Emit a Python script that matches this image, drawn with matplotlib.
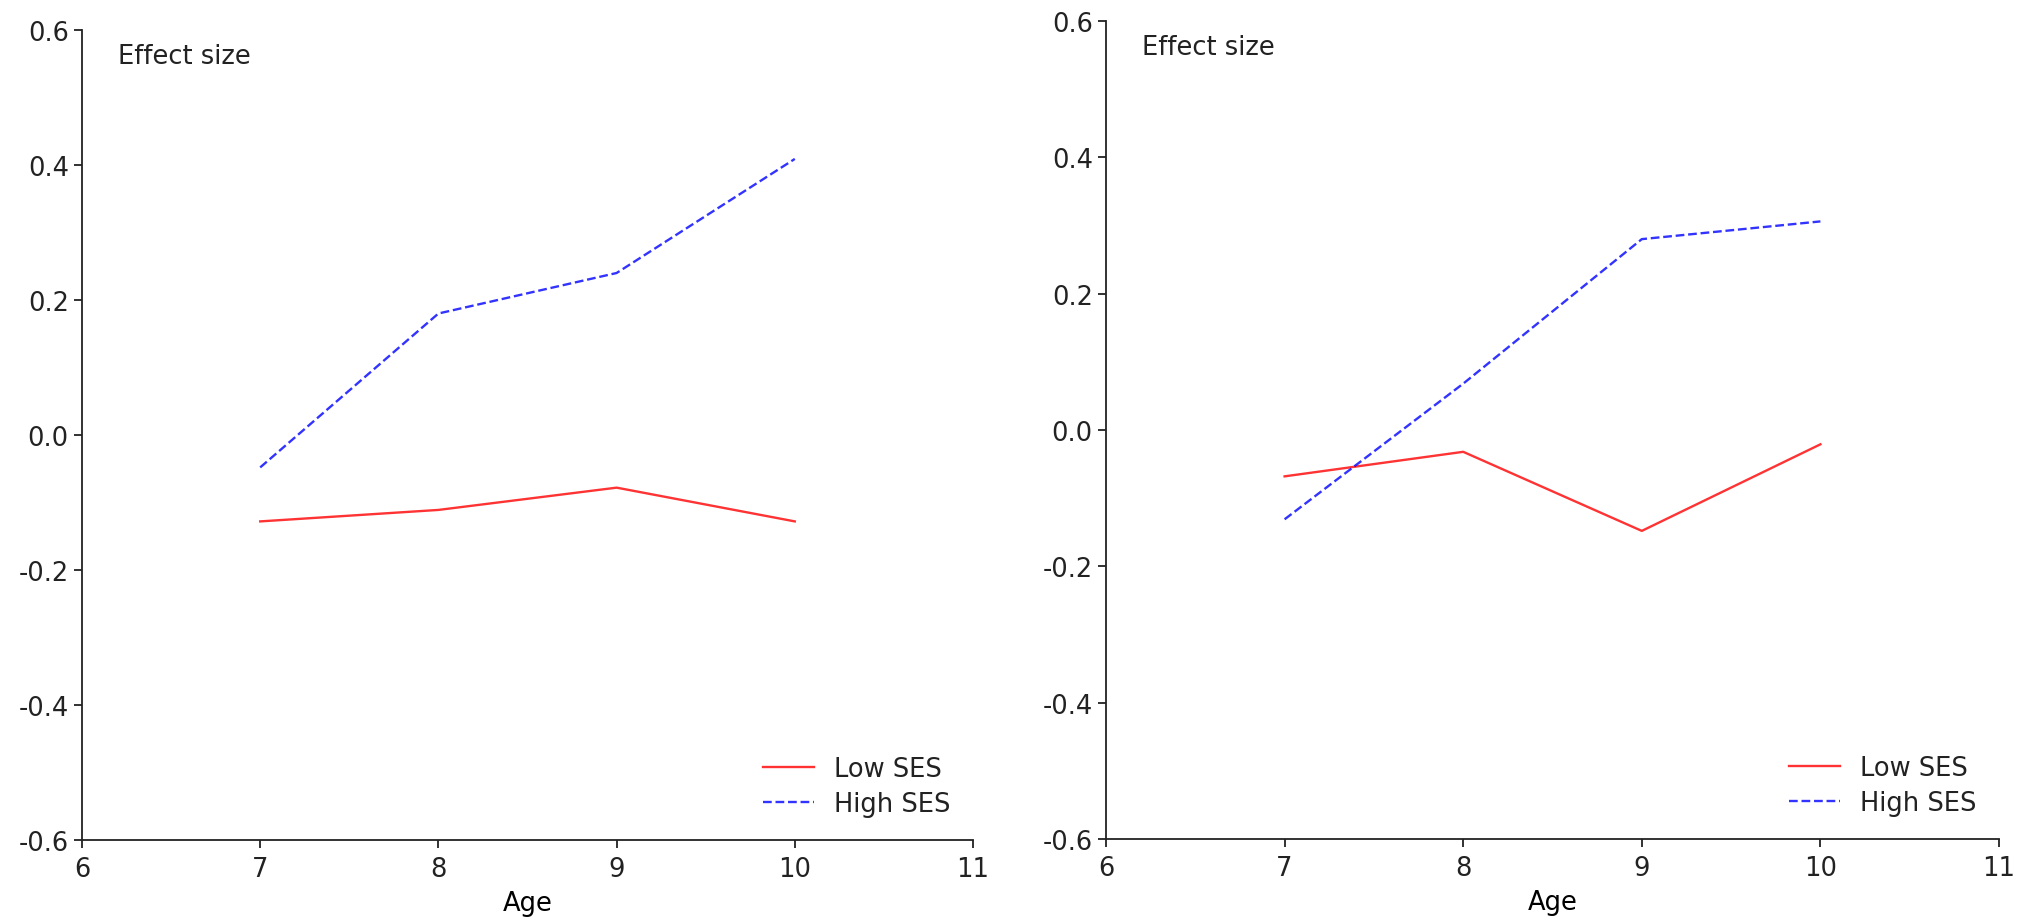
import matplotlib
matplotlib.use("Agg")
import matplotlib.pyplot as plt
import matplotlib.ticker as mticker

# ── Data ────────────────────────────────────────────────────────────────────
AGES = [7, 8, 9, 10]

LEFT_LOW = [-0.128, -0.111, -0.078, -0.128]
LEFT_HIGH = [-0.048, 0.180, 0.240, 0.409]

RIGHT_LOW = [-0.068, -0.032, -0.148, -0.021]
RIGHT_HIGH = [-0.131, 0.068, 0.280, 0.306]

X_TICKS = [6, 7, 8, 9, 10, 11]
Y_TICKS = [-0.6, -0.4, -0.2, 0.0, 0.2, 0.4, 0.6]

plt.rcParams.update({
    "font.family": "DejaVu Sans",
    "font.size": 18.5,
    "axes.spines.top": False,
    "axes.spines.right": False,
    "axes.linewidth": 1.3,
    "axes.edgecolor": "#222222",
    "xtick.major.width": 1.3,
    "ytick.major.width": 1.3,
    "xtick.major.size": 6,
    "ytick.major.size": 6,
    "xtick.major.pad": 5.5,
    "text.color": "#222222",
    "xtick.color": "#222222",
    "ytick.color": "#222222",
})

W, H = 2029, 920
fig = plt.figure(figsize=(W / 100, H / 100), dpi=100)


def px_axes(left, right, top, bottom):
    return fig.add_axes([left / W, 1 - bottom / H, (right - left) / W, (bottom - top) / H])


def panel(ax, low, high):
    ax.plot(AGES, low, color="red", alpha=0.8, lw=1.7, label="Low SES")
    ax.plot(AGES, high, color="blue", alpha=0.8, lw=1.7, ls="--", label="High SES")
    ax.set_xlim(6, 11)
    ax.set_ylim(-0.6, 0.6)
    ax.set_xticks(X_TICKS)
    ax.set_yticks(Y_TICKS)
    ax.yaxis.set_major_formatter(mticker.FuncFormatter(lambda v, _: f"{v:.1f}"))
    ax.set_xlabel("Age", labelpad=6)
    ax.text(0.04, 0.968, "Effect size", transform=ax.transAxes, ha="left", va="center")
    ax.legend(loc="lower right", frameon=False, handlelength=2.0, handletextpad=0.75,
              labelspacing=0.35, borderaxespad=0.5)


ax1 = px_axes(82, 973, 31, 841)
ax2 = px_axes(1106, 1999, 22, 840)
panel(ax1, LEFT_LOW, LEFT_HIGH)
panel(ax2, RIGHT_LOW, RIGHT_HIGH)

fig.savefig("out.png", dpi=100, facecolor="white")
